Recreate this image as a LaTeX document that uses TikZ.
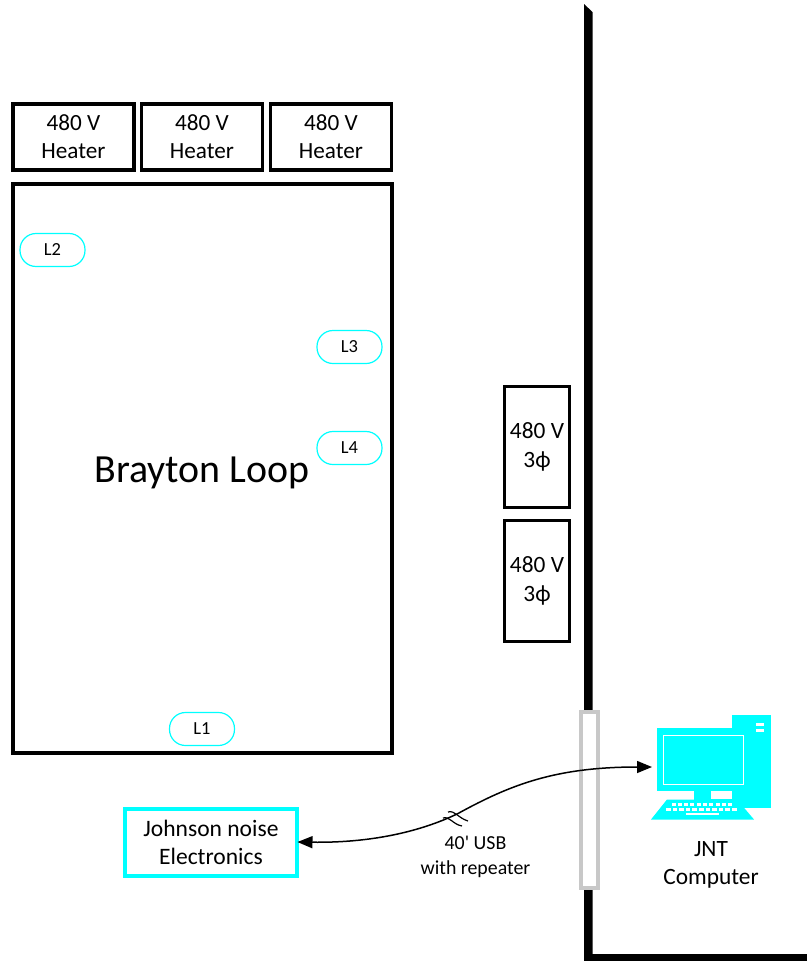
\documentclass[tikz,border=0pt]{standalone}
\usepackage{fontspec}
\usepackage{tikz}
\usetikzlibrary{shapes,arrows.meta,positioning}
\setmainfont{Carlito}

\definecolor{jntcyan}{RGB}{0,255,255}
\definecolor{passgray}{RGB}{200,200,200}

\tikzset{
  heaterbox/.style={draw=black,line width=0.065cm,fill=white,minimum width=2.42cm,minimum height=1.32cm,
    inner sep=0pt,outer sep=0pt,align=center,font=\fontsize{13.2}{16}\selectfont},
  phasebox/.style={draw=black,line width=0.065cm,fill=white,minimum width=1.3cm,minimum height=2.42cm,
    inner sep=0pt,outer sep=0pt,align=center,font=\fontsize{13.3}{16.8}\selectfont},
  loopbox/.style={draw=black,line width=0.065cm,fill=white,minimum width=7.58cm,minimum height=11.38cm,
    inner sep=0pt,outer sep=0pt,align=center},
  lampbox/.style={draw=jntcyan,line width=0.024cm,fill=white,rounded corners=0.32cm,minimum width=1.3cm,
    minimum height=0.66cm,inner sep=0pt,outer sep=0pt,font=\fontsize{10.5}{12}\selectfont},
  jnebox/.style={draw=jntcyan,line width=0.08cm,fill=white,minimum width=3.46cm,minimum height=1.34cm,
    inner sep=0pt,outer sep=0pt,align=center,font=\fontsize{13.4}{16}\selectfont},
  lbl/.style={align=center,inner sep=0pt},
  cable/.style={line width=0.03cm,{Triangle[length=0.3cm,width=0.24cm]}-{Triangle[length=0.3cm,width=0.24cm]}},
  key/.style={fill=white,draw=none}
}

\begin{document}
\begin{tikzpicture}[x=0.02cm,y=-0.02cm]
  \useasboundingbox (0,0) rectangle (807,961);

  % wall
  \fill[black] (584,4) -- (592.5,12) -- (592.5,954) -- (807,954) -- (807,961) -- (584,961) -- cycle;
  \node[draw=passgray,line width=0.08cm,fill=white,minimum width=0.34cm,minimum height=3.52cm,inner sep=0pt] (pass) at (589.3,800) {};

  % loop and heaters
  \node[loopbox] (loop) at (202.5,468.5) {};
  \foreach \n/\x in {a/73.5,b/202,c/331} {
    \node[heaterbox] (heat\n) at (\x,137) {480 V\\Heater};
  }
  \node[lbl,font=\fontsize{22.7}{27}\selectfont] (looplbl) at (202,473) {Brayton Loop};
  \foreach \n/\x/\y in {L1/202/729,L2/52.5/250,L3/349.5/347,L4/349.5/448} {
    \node[lampbox] (\n) at (\x,\y) {\n};
  }

  % supplies
  \node[phasebox] (phasea) at (537,447) {480 V\\3ϕ};
  \node[phasebox] (phaseb) at (537,581) {480 V\\3ϕ};

  % computer
  \fill[jntcyan] (731.7,715) -- (771.3,715) -- (771.3,807.7) -- (731.7,807.7) -- cycle;
  \fill[jntcyan] (656.7,728.3) -- (735,728.3) -- (735,790.7) -- (656.7,790.7) -- cycle;
  \fill[jntcyan] (694,790) -- (711,790) -- (711,800) -- (694,800) -- cycle;
  \fill[jntcyan] (711,799.3) -- (735,799.3) -- (735,807.7) -- (711,807.7) -- cycle;
  \fill[jntcyan] (667,799.5) -- (737,799.5) -- (754,819.5) -- (651,819.5) -- cycle;
  \draw[white,line width=0.016cm] (663,735) rectangle (743,784.3);
  \fill[key] (755.7,723.3) rectangle (763.7,725.7);
  \fill[key] (755.7,729) rectangle (763.7,731.7);
  \foreach \k in {0,...,9} {
    \fill[key] ({671.5+6.3*\k},803.4) rectangle ++(4,2.3);
  }
  \foreach \k in {0,...,10} {
    \fill[key] ({666+6.6*\k},807.8) rectangle ++(4.6,3);
  }
  \fill[key] (685.7,812.8) rectangle (719,815.2);
  \node[lbl,font=\fontsize{13.3}{16}\selectfont] (pclbl) at (711,865) {JNT\\Computer};
  \coordinate (pc) at (652,767);

  % electronics
  \node[jnebox] (jne) at (211,842) {Johnson noise\\Electronics};

  % cable
  \coordinate (brk) at (458,813.5);
  \draw[cable] (jne.east) .. controls (370,843) and (420,832) .. (brk)
    .. controls (510,785) and (555,767) .. (pc);
  \draw[line width=0.024cm] (448,812) .. controls (455,810) and (458,818) .. (468,821);
  \draw[line width=0.024cm] (443,818) .. controls (450,816) and (452,824) .. (462,826);
  \node[lbl,font=\fontsize{11.3}{14.2}\selectfont] (usblbl) at (475.5,857) {40\textquotesingle{} USB\\with repeater};
\end{tikzpicture}
\end{document}
